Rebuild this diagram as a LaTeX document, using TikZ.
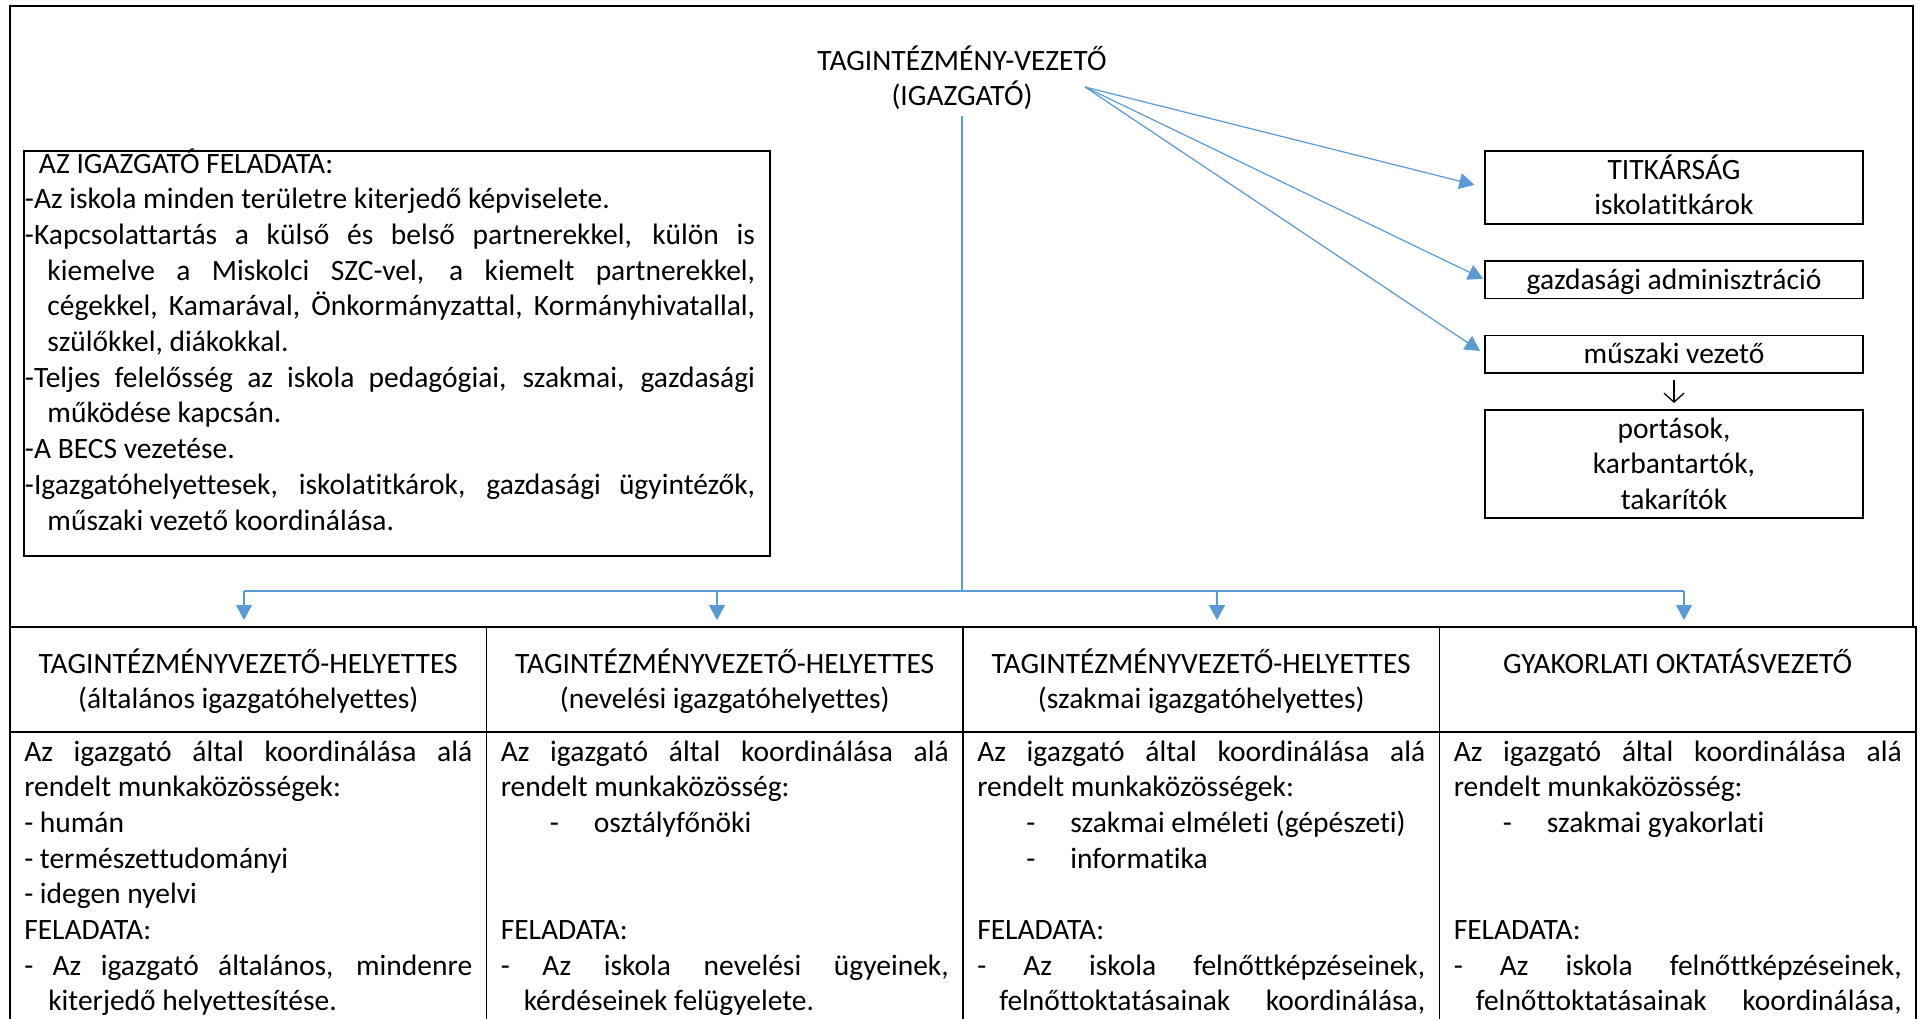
\documentclass[tikz,border=0pt]{standalone}
\usepackage{fontspec}
\setmainfont{Carlito}[Ligatures={TeX,NoCommon}]
\usetikzlibrary{positioning,arrows.meta}

\definecolor{kek}{RGB}{91,155,213}
\newcommand{\betu}{\fontsize{14.75}{17.85}\selectfont}
\newcommand{\tetel}[1]{\hspace*{24.5pt}-\hspace{17.5pt}#1}
\newcommand{\kozep}[1]{\spaceskip=0pt\xspaceskip=0pt\centering#1\par}
\newcommand{\sorkizart}{\spaceskip=0pt\xspaceskip=0pt\parfillskip=0pt plus 1fil}
\hyphenpenalty=10000
\exhyphenpenalty=10000

\tikzset{
  keret/.style={draw=black,line width=0.8pt,outer sep=0pt},
  vonal/.style={draw=kek,line width=0.6pt},
  nyil/.style={vonal,-{Triangle[length=7.5pt,width=8pt]}},
  fej/.style={keret,inner sep=0pt,text width=238.25pt,
    text height=23pt,text depth=29.5pt,font=\betu},
  cella/.style={keret,inner xsep=7.125pt,inner ysep=0pt,text width=224pt,align=justify,
    text height=14.5pt,text depth=200pt,font=\betu},
  doboz/.style={keret,inner sep=0pt,text width=189pt,text height=14pt,font=\betu}
}

\begin{document}
\begin{tikzpicture}[x=0.5pt,y=-0.5pt]
\useasboundingbox (0,0) rectangle (1923,1018);
\fill[white] (0,0) rectangle (1923,1018);
\clip (0,0) rectangle (1923,1018);

\draw[keret] (10,6) rectangle (1913,627);

\node[inner sep=0pt,text width=200pt,font=\betu,anchor=base] (igazgato) at (962,70)
  {\kozep{TAGINTÉZMÉNY-VEZETŐ\\(IGAZGATÓ)}};

\node[keret,inner sep=0pt,text width=373pt,align=justify,font=\betu,
  text height=11pt,text depth=191.5pt,anchor=north west] (feladat) at (24,151) {%
\sorkizart\leftskip=0.5pt\rightskip=7.5pt
\hspace*{7pt}AZ IGAZGATÓ FELADATA:\par
-Az iskola minden területre kiterjedő képviselete.\par
\hangindent=11.25pt\hangafter=1 -Kapcsolattartás a külső és belső partnerekkel, külön is\linebreak
kiemelve a Miskolci SZC-vel, a kiemelt partnerekkel,\linebreak
cégekkel, Kamarával, Önkormányzattal, Kormányhivatallal,\linebreak
szülőkkel, diákokkal.\par
\hangindent=11.25pt\hangafter=1 -Teljes felelősség az iskola pedagógiai, szakmai, gazdasági\linebreak
működése kapcsán.\par
-A BECS vezetése.\par
\hangindent=11.25pt\hangafter=1 -Igazgatóhelyettesek, iskolatitkárok, gazdasági ügyintézők,\linebreak
műszaki vezető koordinálása.\par};

\node[doboz,text depth=22.5pt,anchor=north west] (titkar) at (1485,151) {\kozep{TITKÁRSÁG\\iskolatitkárok}};
\node[doboz,text depth=4.75pt,below=18.5pt of titkar] (gazd) {\kozep{gazdasági adminisztráció}};
\node[doboz,text depth=4.75pt,below=18.5pt of gazd] (musz) {\kozep{műszaki vezető}};
\node[doboz,text depth=40pt,below=18.5pt of musz] (portas) {\kozep{portások,\\karbantartók,\\takarítók}};

\coordinate (src) at (1085,87);
\draw[nyil,shorten >=5.5pt] (src) -- (titkar.west);
\draw[nyil,shorten >=1pt] (src) -- (gazd.west);
\draw[nyil,shorten >=3pt] (src) -- (musz.west);
\draw[line width=0.65pt,-{Straight Barb[length=4.5pt,width=10pt]},
  shorten <=3.5pt,shorten >=3.5pt] (musz) -- (portas);

\node[fej,anchor=north west] (h1) at (10,627) {\kozep{TAGINTÉZMÉNYVEZETŐ-HELYETTES\\(általános igazgatóhelyettes)}};
\node[fej,right=0pt of h1] (h2) {\kozep{TAGINTÉZMÉNYVEZETŐ-HELYETTES\\(nevelési igazgatóhelyettes)}};
\node[fej,right=0pt of h2] (h3) {\kozep{TAGINTÉZMÉNYVEZETŐ-HELYETTES\\(szakmai igazgatóhelyettes)}};
\node[fej,right=0pt of h3] (h4) {\kozep{GYAKORLATI OKTATÁSVEZETŐ}};

\node[cella,below=0pt of h1] (t1) {\sorkizart
Az igazgató által koordinálása alá\linebreak rendelt munkaközösségek:\par
- humán\par
- természettudományi\par
- idegen nyelvi\par
FELADATA:\par
\hangindent=12pt\hangafter=1 - Az igazgató általános, mindenre\linebreak kiterjedő helyettesítése.\par};
\node[cella,below=0pt of h2] (t2) {\sorkizart
Az igazgató által koordinálása alá\linebreak rendelt munkaközösség:\par
\tetel{osztályfőnöki}\par
\mbox{}\par
\mbox{}\par
FELADATA:\par
\hangindent=11.5pt\hangafter=1 - Az iskola nevelési ügyeinek,\linebreak kérdéseinek felügyelete.\par};
\node[cella,below=0pt of h3] (t3) {\sorkizart
Az igazgató által koordinálása alá\linebreak rendelt munkaközösségek:\par
\tetel{szakmai elméleti (gépészeti)}\par
\tetel{informatika}\par
\mbox{}\par
FELADATA:\par
\hangindent=11pt\hangafter=1 - Az iskola felnőttképzéseinek,\linebreak felnőttoktatásainak koordinálása,\linebreak\par};
\node[cella,below=0pt of h4] (t4) {\sorkizart
Az igazgató által koordinálása alá\linebreak rendelt munkaközösség:\par
\tetel{szakmai gyakorlati}\par
\mbox{}\par
\mbox{}\par
FELADATA:\par
\hangindent=11pt\hangafter=1 - Az iskola felnőttképzéseinek,\linebreak felnőttoktatásainak koordinálása,\linebreak\par};

\coordinate (bus) at (962,591);
\coordinate (b1) at (244,591);
\coordinate (b2) at (717,591);
\coordinate (b3) at (1217,591);
\coordinate (b4) at (1684,591);
\draw[vonal,shorten <=3pt] (igazgato.south) -- (bus);
\draw[vonal] (b1) -- (b4);
\foreach \i in {1,...,4}
    \draw[nyil,shorten >=3.5pt] (b\i) -- (b\i |- h\i.north);
\end{tikzpicture}
\end{document}
